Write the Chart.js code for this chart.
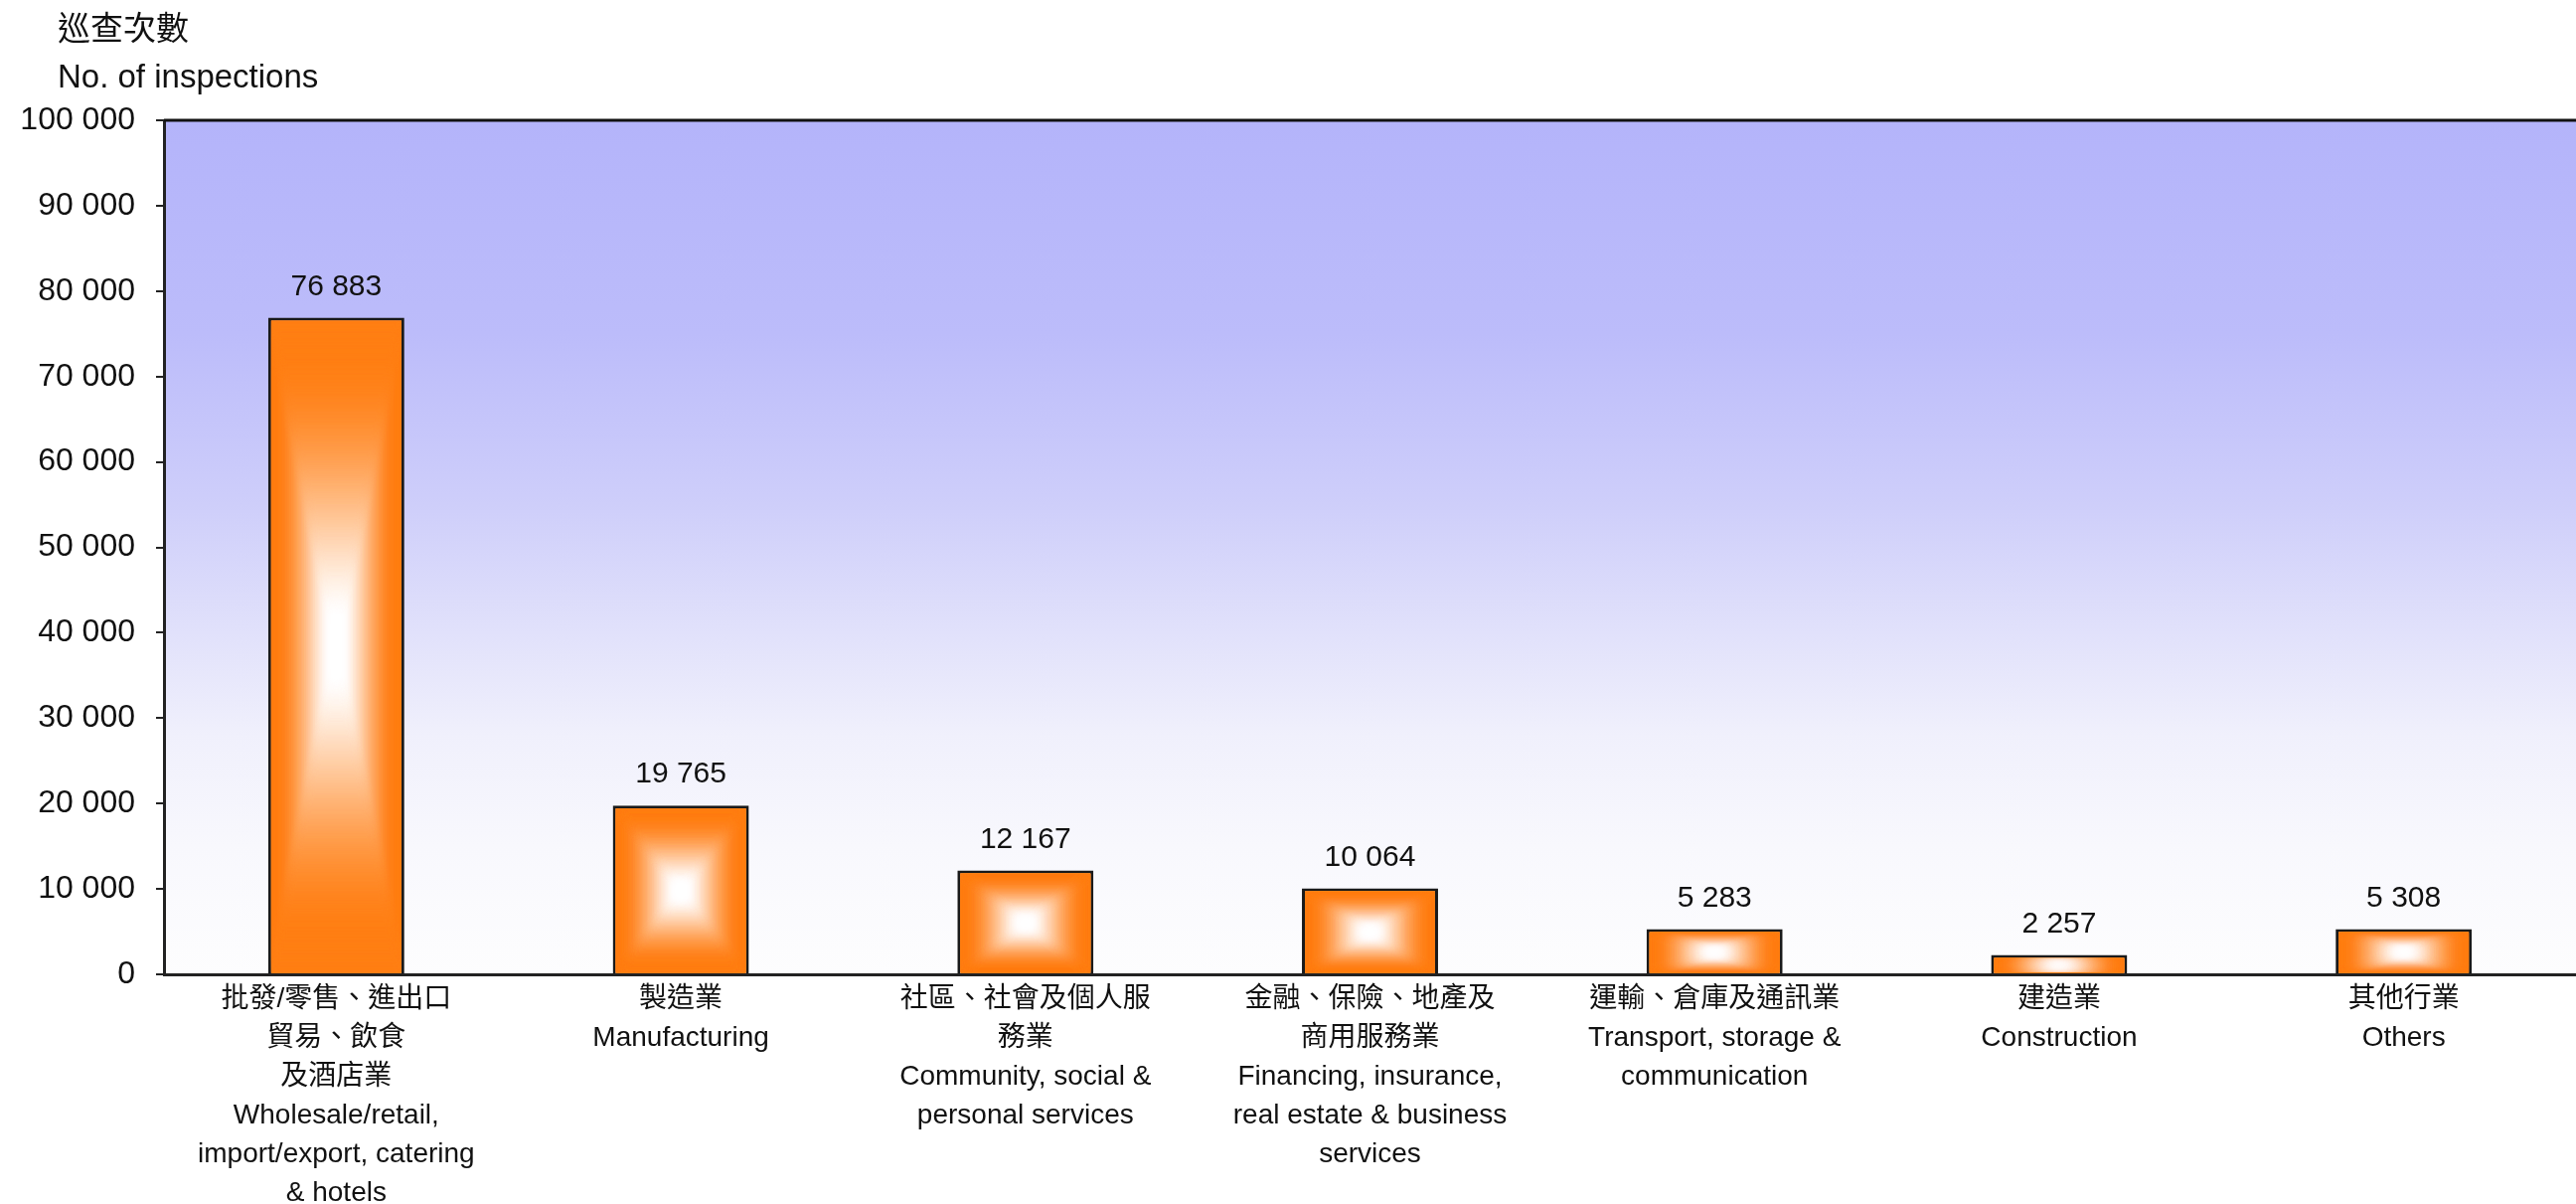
<!DOCTYPE html>
<html lang="zh-Hant">
<head>
    <meta charset="UTF-8">
    <title>巡查次數 No. of inspections</title>
    <style>
        html, body {
            margin: 0;
            padding: 0;
            background: #ffffff;
        }
        #wrap {
            position: relative;
            width: 2592px;
            height: 1211px;
        }
    </style>
    <script src="https://cdn.jsdelivr.net/npm/chart.js"></script>
</head>
<body>

    <div id="wrap">
        <canvas id="inspectionChart"></canvas>
    </div>

    <script>
        // Industry categories (Chinese lines first, then English lines)
        const industries = [
            ['批發/零售、進出口', '貿易、飲食', '及酒店業', 'Wholesale/retail,', 'import/export, catering', '& hotels'],
            ['製造業', 'Manufacturing'],
            ['社區、社會及個人服', '務業', 'Community, social &', 'personal services'],
            ['金融、保險、地產及', '商用服務業', 'Financing, insurance,', 'real estate & business', 'services'],
            ['運輸、倉庫及通訊業', 'Transport, storage &', 'communication'],
            ['建造業', 'Construction'],
            ['其他行業', 'Others']
        ];

        // Number of inspections per industry
        const inspections = [76883, 19765, 12167, 10064, 5283, 2257, 5308];

        // Value axis
        const yMin = 0;
        const yMax = 100000;
        const yStep = 10000;

        const axisTitle = ['巡查次數', 'No. of inspections'];

        const FONT = "'Liberation Sans', Arial, 'Noto Sans CJK TC', sans-serif";
        const ORANGE = [255, 127, 20];

        // 76883 -> "76 883"
        function spaced(n) {
            return String(Math.round(n)).replace(/\B(?=(\d{3})+(?!\d))/g, ' ');
        }

        // lavender-to-white wash behind the bars, frame line on top, axis caption
        const plotBackground = {
            id: 'plotBackground',
            beforeDraw(chart) {
                const { ctx, chartArea: a } = chart;
                const g = ctx.createLinearGradient(0, a.top, 0, a.bottom);
                g.addColorStop(0.00, 'rgb(180,180,250)');
                g.addColorStop(0.25, 'rgb(188,188,250)');
                g.addColorStop(0.45, 'rgb(206,206,250)');
                g.addColorStop(0.60, 'rgb(225,225,251)');
                g.addColorStop(0.72, 'rgb(240,240,252)');
                g.addColorStop(0.85, 'rgb(248,248,253)');
                g.addColorStop(1.00, 'rgb(253,253,254)');
                ctx.save();
                ctx.fillStyle = g;
                ctx.fillRect(a.left, a.top, a.right - a.left, a.bottom - a.top);

                ctx.fillStyle = '#111111';
                ctx.font = `33px ${FONT}`;
                ctx.textAlign = 'left';
                ctx.textBaseline = 'middle';
                ctx.fillText(axisTitle[0], 58, 31);
                ctx.fillText(axisTitle[1], 58, 79);
                ctx.restore();
            },
            beforeDatasetsDraw(chart) {
                const { ctx, chartArea: a } = chart;
                ctx.save();
                ctx.strokeStyle = '#111111';
                ctx.lineWidth = 3;
                ctx.beginPath();
                ctx.moveTo(a.left, a.top);
                ctx.lineTo(a.right, a.top);
                ctx.stroke();
                ctx.restore();
            }
        };

        // orange edge fading to a soft white core inside each bar
        const barShade = {
            id: 'barShade',
            afterDatasetDraw(chart, args) {
                const ctx = chart.ctx;
                const bw = chart.data.datasets[args.index].borderWidth;
                args.meta.data.forEach(el => {
                    const { x, y, base, width } = el.getProps(['x', 'y', 'base', 'width'], true);
                    const left = x - width / 2 + bw;
                    const right = x + width / 2 - bw;
                    const top = y + bw;
                    const bottom = base - 1;
                    const cx = (left + right) / 2;
                    const cy = (top + bottom) / 2;
                    const hw = (right - left) / 2;
                    const hh = (bottom - top) / 2;
                    const steps = 100;
                    ctx.save();
                    ctx.beginPath();
                    ctx.rect(left, top, right - left, bottom - top);
                    ctx.clip();
                    ctx.filter = 'blur(3px)';
                    ctx.fillStyle = `rgb(${ORANGE.join(',')})`;
                    ctx.fillRect(left - 8, top - 8, right - left + 16, bottom - top + 16);
                    for (let k = 0; k <= steps; k++) {
                        const t = 1 - k / steps;              // 1 at the edge, 0 at the centre
                        let u = Math.min(Math.max((t - 0.1) / 0.8, 0), 1);
                        u = u * u * (3 - 2 * u);              // smoothstep
                        u = Math.pow(u, 0.7);
                        const r = Math.round(255 + (ORANGE[0] - 255) * u);
                        const g = Math.round(255 + (ORANGE[1] - 255) * u);
                        const b = Math.round(255 + (ORANGE[2] - 255) * u);
                        ctx.fillStyle = `rgb(${r},${g},${b})`;
                        const sw = hw * t;
                        const sh = hh * t;
                        ctx.fillRect(cx - sw, cy - sh, sw * 2, sh * 2);
                    }
                    ctx.restore();
                });
            },
            afterDatasetsDraw(chart) {
                const ctx = chart.ctx;
                const meta = chart.getDatasetMeta(0);
                ctx.save();
                ctx.font = `30px ${FONT}`;
                ctx.fillStyle = '#111111';
                ctx.textAlign = 'center';
                ctx.textBaseline = 'middle';
                meta.data.forEach((el, i) => {
                    ctx.fillText(spaced(inspections[i]), el.x, el.y - 31);
                });
                ctx.restore();
            }
        };

        const ctx = document.getElementById('inspectionChart').getContext('2d');
        new Chart(ctx, {
            type: 'bar',
            data: {
                labels: industries,
                datasets: [{
                    data: inspections,
                    backgroundColor: `rgb(${ORANGE.join(',')})`,
                    borderColor: '#1a1a1a',
                    borderWidth: 3,
                    barPercentage: 0.395,
                    categoryPercentage: 1.0
                }]
            },
            options: {
                responsive: true,
                maintainAspectRatio: false,
                animation: false,
                devicePixelRatio: 1,
                layout: {
                    padding: { left: 10, top: 121, right: 0, bottom: 0 }
                },
                plugins: {
                    legend: { display: false },
                    tooltip: { enabled: false },
                    title: { display: false }
                },
                scales: {
                    x: {
                        offset: true,
                        grid: { display: true, drawOnChartArea: false, drawTicks: false },
                        border: { display: true, color: '#222222', width: 3 },
                        ticks: {
                            color: '#111111',
                            font: { family: FONT, size: 28, lineHeight: '39px' },
                            padding: 6,
                            maxRotation: 0,
                            minRotation: 0,
                            autoSkip: false
                        },
                        afterFit(scale) {
                            scale.height = 231;
                        }
                    },
                    y: {
                        min: yMin,
                        max: yMax,
                        grid: { display: true, drawOnChartArea: false, drawTicks: true, tickLength: 8, color: '#222222', lineWidth: 2 },
                        border: { display: true, color: '#222222', width: 3 },
                        ticks: {
                            stepSize: yStep,
                            color: '#111111',
                            font: { family: FONT, size: 32 },
                            padding: 21,
                            callback: v => spaced(v)
                        },
                        afterFit(scale) {
                            scale.width = 155;
                        }
                    }
                }
            },
            plugins: [plotBackground, barShade]
        });
    </script>

</body>
</html>
